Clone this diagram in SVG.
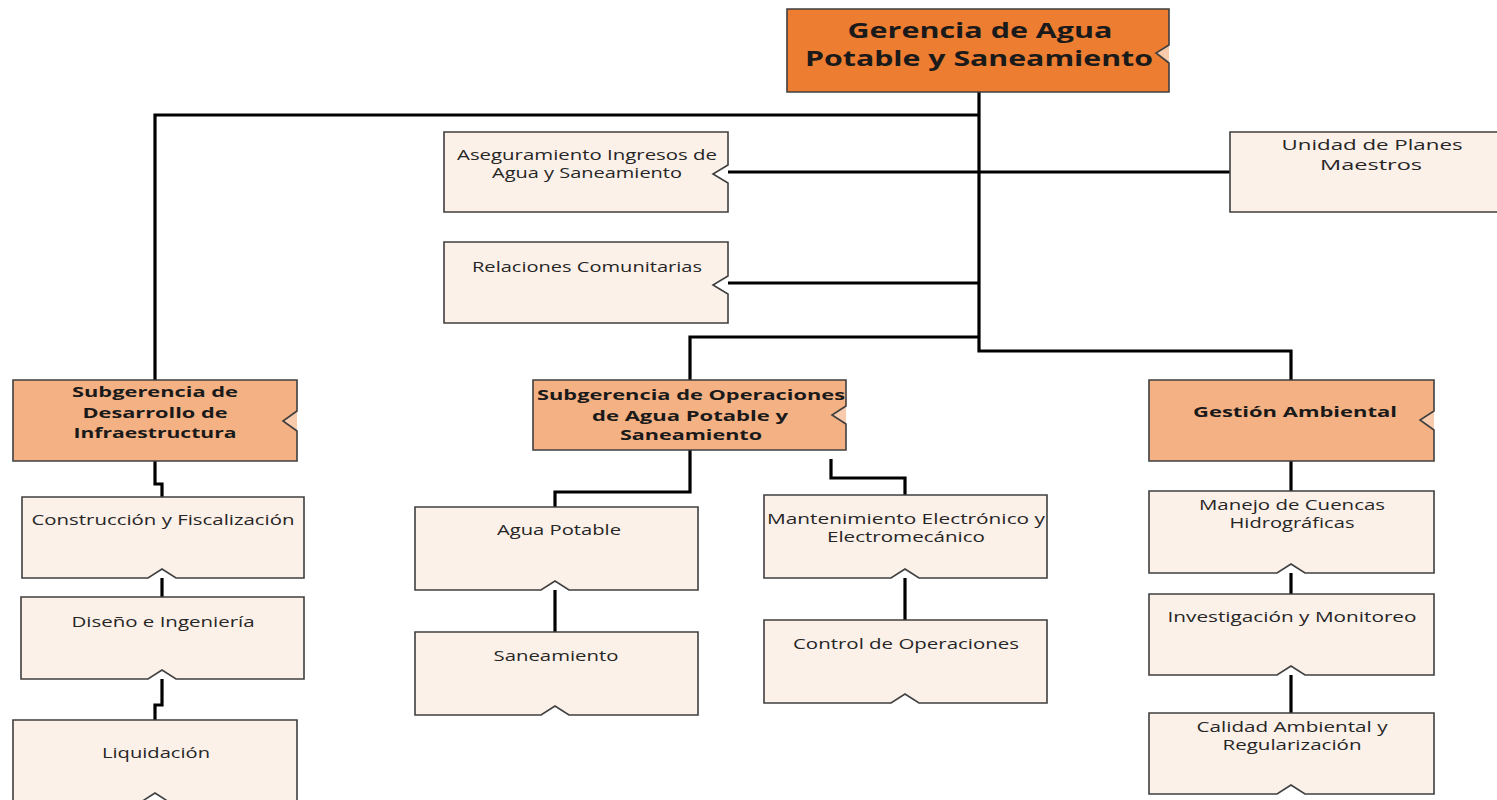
<svg xmlns="http://www.w3.org/2000/svg" width="1497" height="800" viewBox="0 0 1497 800">
<style>
.box{stroke:#3f3f3f;stroke-width:1.6}
.top{fill:#ED7D31}
.sub{fill:#F4B183}
.lt{fill:#FCF1E9}
.tri{fill:#F8CBAD;stroke:none}
.t{font-family:"Open Sans","Liberation Sans",sans-serif;font-size:15px;fill:#262626;text-anchor:middle}
.b{font-family:"Open Sans","Liberation Sans",sans-serif;font-size:15px;font-weight:bold;fill:#1a1a1a;text-anchor:middle}
.h{font-family:"Open Sans","Liberation Sans",sans-serif;font-size:22px;font-weight:bold;fill:#1a1a1a;text-anchor:middle}
.c{fill:none;stroke:#000;stroke-width:3.2}
</style>
<rect width="1497" height="800" fill="#ffffff"/>
<g id="connectors">
<path class="c" d="M979 92 V351 H1291 V380"/>
<path class="c" d="M979 115 H155 V380"/>
<path class="c" d="M728 172 H1230"/>
<path class="c" d="M728 283 H979"/>
<path class="c" d="M979 337 H690 V380"/>
<path class="c" d="M155 461 V484 H162 V497"/>
<path class="c" d="M162 578 V597"/>
<path class="c" d="M162 679 V705 H155 V720"/>
<path class="c" d="M690 450 V492 H555 V507"/>
<path class="c" d="M831 459 V478 H905 V495"/>
<path class="c" d="M555 590 V632"/>
<path class="c" d="M905 578 V620"/>
<path class="c" d="M1291 461 V491"/>
<path class="c" d="M1291 573 V594"/>
<path class="c" d="M1291 675 V713"/>
</g>
<g id="gerencia">
<path class="tri" d="M1169 45 L1156 53 L1169 63 Z"/>
<path class="box top" d="M787 9 H1169 V45 L1156 53 L1169 63 V92 H787 Z"/>
<text class="h" x="980" y="38" textLength="265" lengthAdjust="spacingAndGlyphs">Gerencia de Agua</text>
<text class="h" x="979" y="66" textLength="348" lengthAdjust="spacingAndGlyphs">Potable y Saneamiento</text>
</g>
<g id="aseguramiento">
<path class="box lt" d="M444 132 H728 V165 L713 174 L728 183 V212 H444 Z"/>
<text class="t" x="587" y="160" textLength="260" lengthAdjust="spacingAndGlyphs">Aseguramiento Ingresos de</text>
<text class="t" x="587" y="178" textLength="190" lengthAdjust="spacingAndGlyphs">Agua y Saneamiento</text>
</g>
<g id="unidad">
<path class="box lt" d="M1230 132 H1516 V212 H1230 Z"/>
<text class="t" x="1372" y="150" textLength="181" lengthAdjust="spacingAndGlyphs">Unidad de Planes</text>
<text class="t" x="1371" y="170" textLength="102" lengthAdjust="spacingAndGlyphs">Maestros</text>
</g>
<g id="relaciones">
<path class="box lt" d="M444 242 H728 V276 L713 285 L728 294 V323 H444 Z"/>
<text class="t" x="587" y="272" textLength="230" lengthAdjust="spacingAndGlyphs">Relaciones Comunitarias</text>
</g>
<g id="sub-desarrollo">
<path class="tri" d="M297 411 L283 421 L297 431 Z"/>
<path class="box sub" d="M13 380 H297 V411 L283 421 L297 431 V461 H13 Z"/>
<text class="b" x="155" y="397" textLength="166" lengthAdjust="spacingAndGlyphs">Subgerencia de</text>
<text class="b" x="155" y="418" textLength="145" lengthAdjust="spacingAndGlyphs">Desarrollo de</text>
<text class="b" x="155" y="438" textLength="163" lengthAdjust="spacingAndGlyphs">Infraestructura</text>
</g>
<g id="sub-operaciones">
<path class="tri" d="M846 406 L832 415 L846 424 Z"/>
<path class="box sub" d="M533 380 H846 V406 L832 415 L846 424 V450 H533 Z"/>
<text class="b" x="691" y="400" textLength="308" lengthAdjust="spacingAndGlyphs">Subgerencia de Operaciones</text>
<text class="b" x="690" y="421" textLength="196" lengthAdjust="spacingAndGlyphs">de Agua Potable y</text>
<text class="b" x="691" y="440" textLength="142" lengthAdjust="spacingAndGlyphs">Saneamiento</text>
</g>
<g id="gestion-ambiental">
<path class="tri" d="M1434 411 L1420 420 L1434 430 Z"/>
<path class="box sub" d="M1149 380 H1434 V411 L1420 420 L1434 430 V461 H1149 Z"/>
<text class="b" x="1295" y="417" textLength="204" lengthAdjust="spacingAndGlyphs">Gestión Ambiental</text>
</g>
<g id="construccion">
<path class="box lt" d="M22 497 H304 V578 H176 L162 569 L148 578 H22 Z"/>
<text class="t" x="163" y="525" textLength="263" lengthAdjust="spacingAndGlyphs">Construcción y Fiscalización</text>
</g>
<g id="diseno">
<path class="box lt" d="M21 597 H304 V679 H176 L162 670 L148 679 H21 Z"/>
<text class="t" x="163" y="627" textLength="183" lengthAdjust="spacingAndGlyphs">Diseño e Ingeniería</text>
</g>
<g id="liquidacion">
<path class="box lt" d="M13 720 H297 V802 H169 L155 793 L141 802 H13 Z"/>
<text class="t" x="156" y="758" textLength="108" lengthAdjust="spacingAndGlyphs">Liquidación</text>
</g>
<g id="agua-potable">
<path class="box lt" d="M415 507 H698 V590 H569 L555 581 L541 590 H415 Z"/>
<text class="t" x="559" y="535" textLength="124" lengthAdjust="spacingAndGlyphs">Agua Potable</text>
</g>
<g id="saneamiento">
<path class="box lt" d="M415 632 H698 V715 H569 L555 706 L541 715 H415 Z"/>
<text class="t" x="556" y="661" textLength="125" lengthAdjust="spacingAndGlyphs">Saneamiento</text>
</g>
<g id="mantenimiento">
<path class="box lt" d="M764 495 H1047 V578 H919 L905 569 L891 578 H764 Z"/>
<text class="t" x="906" y="524" textLength="278" lengthAdjust="spacingAndGlyphs">Mantenimiento Electrónico y</text>
<text class="t" x="906" y="542" textLength="158" lengthAdjust="spacingAndGlyphs">Electromecánico</text>
</g>
<g id="control-operaciones">
<path class="box lt" d="M764 620 H1047 V703 H919 L905 694 L891 703 H764 Z"/>
<text class="t" x="906" y="649" textLength="226" lengthAdjust="spacingAndGlyphs">Control de Operaciones</text>
</g>
<g id="manejo-cuencas">
<path class="box lt" d="M1149 491 H1434 V573 H1305 L1291 564 L1277 573 H1149 Z"/>
<text class="t" x="1292" y="510" textLength="186" lengthAdjust="spacingAndGlyphs">Manejo de Cuencas</text>
<text class="t" x="1292" y="528" textLength="125" lengthAdjust="spacingAndGlyphs">Hidrográficas</text>
</g>
<g id="investigacion">
<path class="box lt" d="M1149 594 H1434 V675 H1305 L1291 666 L1277 675 H1149 Z"/>
<text class="t" x="1292" y="622" textLength="249" lengthAdjust="spacingAndGlyphs">Investigación y Monitoreo</text>
</g>
<g id="calidad-ambiental">
<path class="box lt" d="M1149 713 H1434 V794 H1305 L1291 785 L1277 794 H1149 Z"/>
<text class="t" x="1292" y="732" textLength="191" lengthAdjust="spacingAndGlyphs">Calidad Ambiental y</text>
<text class="t" x="1292" y="750" textLength="139" lengthAdjust="spacingAndGlyphs">Regularización</text>
</g>
</svg>
